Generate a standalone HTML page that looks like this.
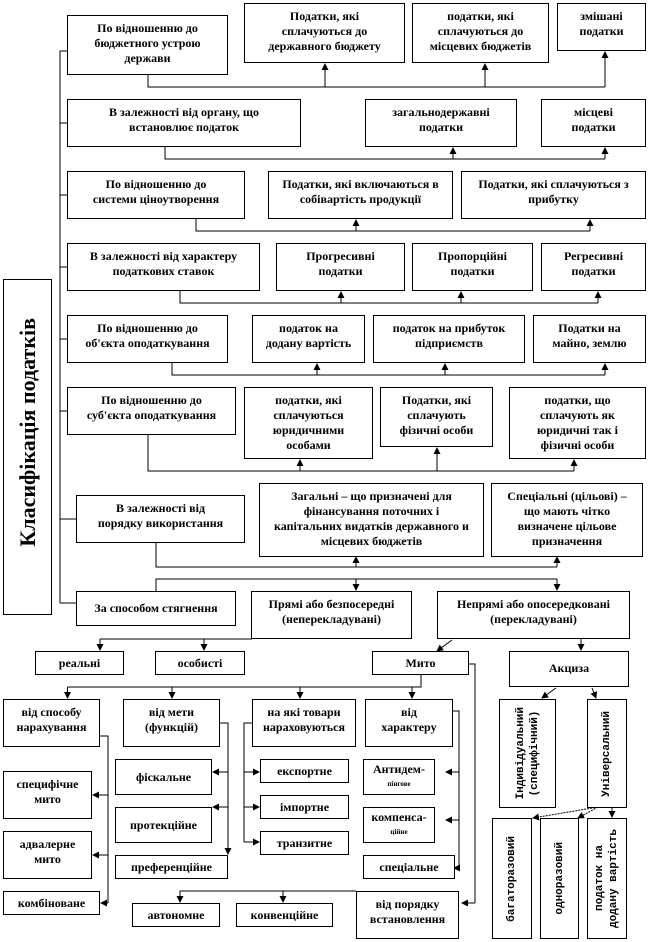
<!DOCTYPE html>
<html><head><meta charset="utf-8">
<style>
html,body{margin:0;padding:0;background:#fff;}
#c{position:relative;width:651px;height:942px;overflow:hidden;font-family:"Liberation Serif","DejaVu Serif",serif;font-weight:bold;font-size:12px;color:#000;}
.b{position:absolute;box-sizing:border-box;border:1px solid #000;background:#fff;text-align:center;line-height:15px;padding-top:5px;}
.v{position:absolute;box-sizing:border-box;border:1px solid #000;background:#fff;font-family:"Liberation Mono",monospace;font-size:11px;line-height:14px;display:flex;align-items:center;justify-content:center;}
.v span{writing-mode:vertical-rl;transform:rotate(180deg);text-align:center;}
svg{position:absolute;left:0;top:0;}
</style></head><body><div id="c">
<svg width="651" height="942" viewBox="0 0 651 942">
<defs>
<marker id="a" markerWidth="7" markerHeight="7" refX="6" refY="3.5" orient="auto" markerUnits="userSpaceOnUse"><path d="M0,0L7,3.5L0,7z" fill="#000"/></marker>
</defs>
<g stroke="#000" stroke-width="1" fill="none">
<!-- main spine -->
<path d="M60,51V603 M60,51H68 M60,123H68 M60,195H68 M60,267H68 M60,339H68 M60,411H68 M60,519H76 M60,603H76"/>
<!-- row1 -->
<path d="M148,75V87H605"/>
<path d="M325,87V64" marker-end="url(#a)"/><path d="M485,87V64" marker-end="url(#a)"/><path d="M605,87V52" marker-end="url(#a)"/>
<!-- row2 -->
<path d="M165,147V159H605"/>
<path d="M453,159V148" marker-end="url(#a)"/><path d="M605,159V148" marker-end="url(#a)"/>
<!-- row3 -->
<path d="M196,219V231H590"/>
<path d="M356,231V220" marker-end="url(#a)"/><path d="M590,231V220" marker-end="url(#a)"/>
<!-- row4 -->
<path d="M180,291V303H598"/>
<path d="M341,303V292" marker-end="url(#a)"/><path d="M461,303V292" marker-end="url(#a)"/><path d="M598,303V292" marker-end="url(#a)"/>
<!-- row5 -->
<path d="M172,363V375H605"/>
<path d="M317,375V364" marker-end="url(#a)"/><path d="M445,375V364" marker-end="url(#a)"/><path d="M605,375V364" marker-end="url(#a)"/>
<!-- row6 -->
<path d="M148,435V471H574"/>
<path d="M300,471V460" marker-end="url(#a)"/><path d="M437,471V448" marker-end="url(#a)"/><path d="M574,471V460" marker-end="url(#a)"/>
<!-- row7 -->
<path d="M156,543V567H557"/>
<path d="M356,567V557" marker-end="url(#a)"/><path d="M557,567V557" marker-end="url(#a)"/>
<!-- row8 -->
<path d="M156,591V579H557"/>
<path d="M356,579V590" marker-end="url(#a)"/><path d="M557,579V590" marker-end="url(#a)"/>
<path d="M100,639H252"/>
<path d="M100,639V650" marker-end="url(#a)"/><path d="M204,639V650" marker-end="url(#a)"/>
<path d="M452,640L437,651" marker-end="url(#a)"/>
<path d="M581,639V650" marker-end="url(#a)"/>
<!-- Мито -->
<path d="M421,675V687H67.5"/>
<path d="M67.5,687V698" marker-end="url(#a)"/><path d="M172,687V698" marker-end="url(#a)"/><path d="M300,687V698" marker-end="url(#a)"/><path d="M412,687V698" marker-end="url(#a)"/>
<path d="M469,664H475V903"/><path d="M475,903H462" marker-end="url(#a)"/>
<!-- від способу -->
<path d="M100,736H108V903"/>
<path d="M108,795H93" marker-end="url(#a)"/><path d="M108,855H93" marker-end="url(#a)"/><path d="M108,903H101" marker-end="url(#a)"/>
<!-- від мети -->
<path d="M220,723H228V846"/>
<path d="M228,845V854" marker-end="url(#a)"/>
<path d="M228,772H213" marker-end="url(#a)"/><path d="M228,807H213" marker-end="url(#a)"/>
<!-- на які товари -->
<path d="M252,723H244V842"/>
<path d="M244,772H259" marker-end="url(#a)"/><path d="M244,807H259" marker-end="url(#a)"/><path d="M244,842H259" marker-end="url(#a)"/>
<!-- від характеру -->
<path d="M453,711H459V868"/>
<path d="M459,772H446" marker-end="url(#a)"/><path d="M459,820H446" marker-end="url(#a)"/><path d="M459,868H454" marker-end="url(#a)"/>
<!-- автономне / конвенційне -->
<path d="M180,891H356"/>
<path d="M180,891V902" marker-end="url(#a)"/><path d="M283,891V902" marker-end="url(#a)"/>
<!-- Акциза -->
<path d="M556,688L542,698" marker-end="url(#a)"/>
<path d="M592,688L596,698" marker-end="url(#a)"/>
<path d="M598,807L533,818" stroke-dasharray="2,1" marker-end="url(#a)"/>
<path d="M598,807L578,818" stroke-dasharray="2,1" marker-end="url(#a)"/>
<path d="M612,807V817" marker-end="url(#a)"/>
</g>
</svg>

<div class="b" style="left:3px;top:279px;width:49px;height:336px;padding:0;display:flex;align-items:center;justify-content:center;"><span style="writing-mode:vertical-rl;transform:rotate(180deg);font-size:22px;margin-top:-30px;">Класифікація податків</span></div>

<div class="b" style="left:67px;top:15px;width:161px;height:60px;">По відношенню до<br>бюджетного устрою<br>держави</div>
<div class="b" style="left:244px;top:3px;width:161px;height:60px;">Податки, які<br>сплачуються до<br>державного бюджету</div>
<div class="b" style="left:412px;top:3px;width:137px;height:60px;">податки, які<br>сплачуються до<br>місцевих бюджетів</div>
<div class="b" style="left:557px;top:3px;width:89px;height:48px;">змішані<br>податки</div>

<div class="b" style="left:67px;top:99px;width:234px;height:48px;">В залежності від органу, що<br>встановлює податок</div>
<div class="b" style="left:365px;top:99px;width:152px;height:48px;">загальнодержавні<br>податки</div>
<div class="b" style="left:541px;top:99px;width:105px;height:48px;">місцеві<br>податки</div>

<div class="b" style="left:67px;top:171px;width:178px;height:48px;">По відношенню до<br>системи ціноутворення</div>
<div class="b" style="left:268px;top:171px;width:185px;height:48px;">Податки, які включаються в<br>собівартість продукції</div>
<div class="b" style="left:461px;top:171px;width:185px;height:48px;">Податки, які сплачуються з<br>прибутку</div>

<div class="b" style="left:67px;top:243px;width:193px;height:48px;">В залежності від характеру<br>податкових ставок</div>
<div class="b" style="left:276px;top:243px;width:129px;height:48px;">Прогресивні<br>податки</div>
<div class="b" style="left:412px;top:243px;width:121px;height:48px;">Пропорційні<br>податки</div>
<div class="b" style="left:541px;top:243px;width:105px;height:48px;">Регресивні<br>податки</div>

<div class="b" style="left:67px;top:315px;width:161px;height:48px;">По відношенню до<br>об'єкта оподаткування</div>
<div class="b" style="left:252px;top:315px;width:113px;height:48px;">податок на<br>додану вартість</div>
<div class="b" style="left:373px;top:315px;width:152px;height:48px;">податок на прибуток<br>підприємств</div>
<div class="b" style="left:533px;top:315px;width:113px;height:48px;">Податки на<br>майно, землю</div>

<div class="b" style="left:67px;top:387px;width:169px;height:48px;">По відношенню до<br>суб'єкта оподаткування</div>
<div class="b" style="left:244px;top:387px;width:129px;height:72px;">податки, які<br>сплачуються<br>юридичними<br>особами</div>
<div class="b" style="left:380px;top:387px;width:113px;height:60px;">Податки, які<br>сплачують<br>фізичні особи</div>
<div class="b" style="left:509px;top:387px;width:137px;height:72px;">податки, що<br>сплачують як<br>юридичні так і<br>фізичні особи</div>

<div class="b" style="left:76px;top:495px;width:169px;height:48px;">В залежності від<br>порядку використання</div>
<div class="b" style="left:259px;top:483px;width:225px;height:74px;">Загальні – що призначені для<br>фінансування поточних і<br>капітальних видатків державного и<br>місцевих бюджетів</div>
<div class="b" style="left:491px;top:483px;width:152px;height:74px;">Спеціальні (цільові) –<br>що мають чітко<br>визначене цільове<br>призначення</div>

<div class="b" style="left:76px;top:591px;width:160px;height:35px;padding-top:9px;">За способом стягнення</div>
<div class="b" style="left:251px;top:591px;width:161px;height:48px;">Прямі або безпосередні<br>(неперекладувані)</div>
<div class="b" style="left:437px;top:591px;width:193px;height:48px;">Непрямі або опосередковані<br>(перекладувані)</div>

<div class="b" style="left:35px;top:651px;width:89px;height:24px;padding-top:4px;">реальні</div>
<div class="b" style="left:155px;top:651px;width:90px;height:24px;padding-top:4px;">особисті</div>
<div class="b" style="left:372px;top:651px;width:97px;height:24px;padding-top:4px;">Мито</div>
<div class="b" style="left:509px;top:651px;width:120px;height:36px;padding-top:9px;">Акциза</div>

<div class="b" style="left:3px;top:699px;width:97px;height:48px;">від способу<br>нарахування</div>
<div class="b" style="left:123px;top:699px;width:97px;height:48px;">від мети<br>(функцій)</div>
<div class="b" style="left:252px;top:699px;width:104px;height:48px;">на які товари<br>нараховуються</div>
<div class="b" style="left:365px;top:699px;width:88px;height:48px;">від<br>характеру</div>

<div class="b" style="left:3px;top:771px;width:89px;height:48px;">специфічне<br>мито</div>
<div class="b" style="left:3px;top:831px;width:89px;height:48px;">адвалерне<br>мито</div>
<div class="b" style="left:3px;top:891px;width:97px;height:24px;padding-top:4px;">комбіноване</div>

<div class="b" style="left:115px;top:759px;width:97px;height:36px;padding-top:10px;">фіскальне</div>
<div class="b" style="left:115px;top:807px;width:97px;height:36px;padding-top:10px;">протекційне</div>
<div class="b" style="left:115px;top:855px;width:113px;height:24px;padding-top:4px;">преференційне</div>

<div class="b" style="left:260px;top:759px;width:89px;height:24px;padding-top:4px;">експортне</div>
<div class="b" style="left:260px;top:795px;width:89px;height:24px;padding-top:4px;">імпортне</div>
<div class="b" style="left:260px;top:831px;width:89px;height:24px;padding-top:4px;">транзитне</div>

<div class="b" style="left:363px;top:759px;width:72px;height:36px;padding-top:3px;line-height:13px;">Антидем-<br><span style="font-size:7px">пінгове</span></div>
<div class="b" style="left:363px;top:807px;width:72px;height:36px;padding-top:3px;line-height:13px;">компенса-<br><span style="font-size:7px">ційне</span></div>
<div class="b" style="left:363px;top:855px;width:92px;height:24px;padding-top:4px;">спеціальне</div>

<div class="b" style="left:132px;top:903px;width:88px;height:24px;padding-top:4px;">автономне</div>
<div class="b" style="left:236px;top:903px;width:97px;height:24px;padding-top:4px;">конвенційне</div>
<div class="b" style="left:356px;top:891px;width:103px;height:48px;">від порядку<br>встановлення</div>

<div class="v" style="left:499px;top:699px;width:57px;height:109px;"><span>Індивідуальний<br>(специфічний)</span></div>
<div class="v" style="left:587px;top:699px;width:40px;height:109px;"><span>Універсальний</span></div>
<div class="v" style="left:492px;top:818px;width:40px;height:121px;"><span>багаторазовий</span></div>
<div class="v" style="left:540px;top:818px;width:39px;height:121px;"><span>одноразовий</span></div>
<div class="v" style="left:587px;top:818px;width:40px;height:121px;"><span>податок на<br>додану вартість</span></div>
</div></body></html>
